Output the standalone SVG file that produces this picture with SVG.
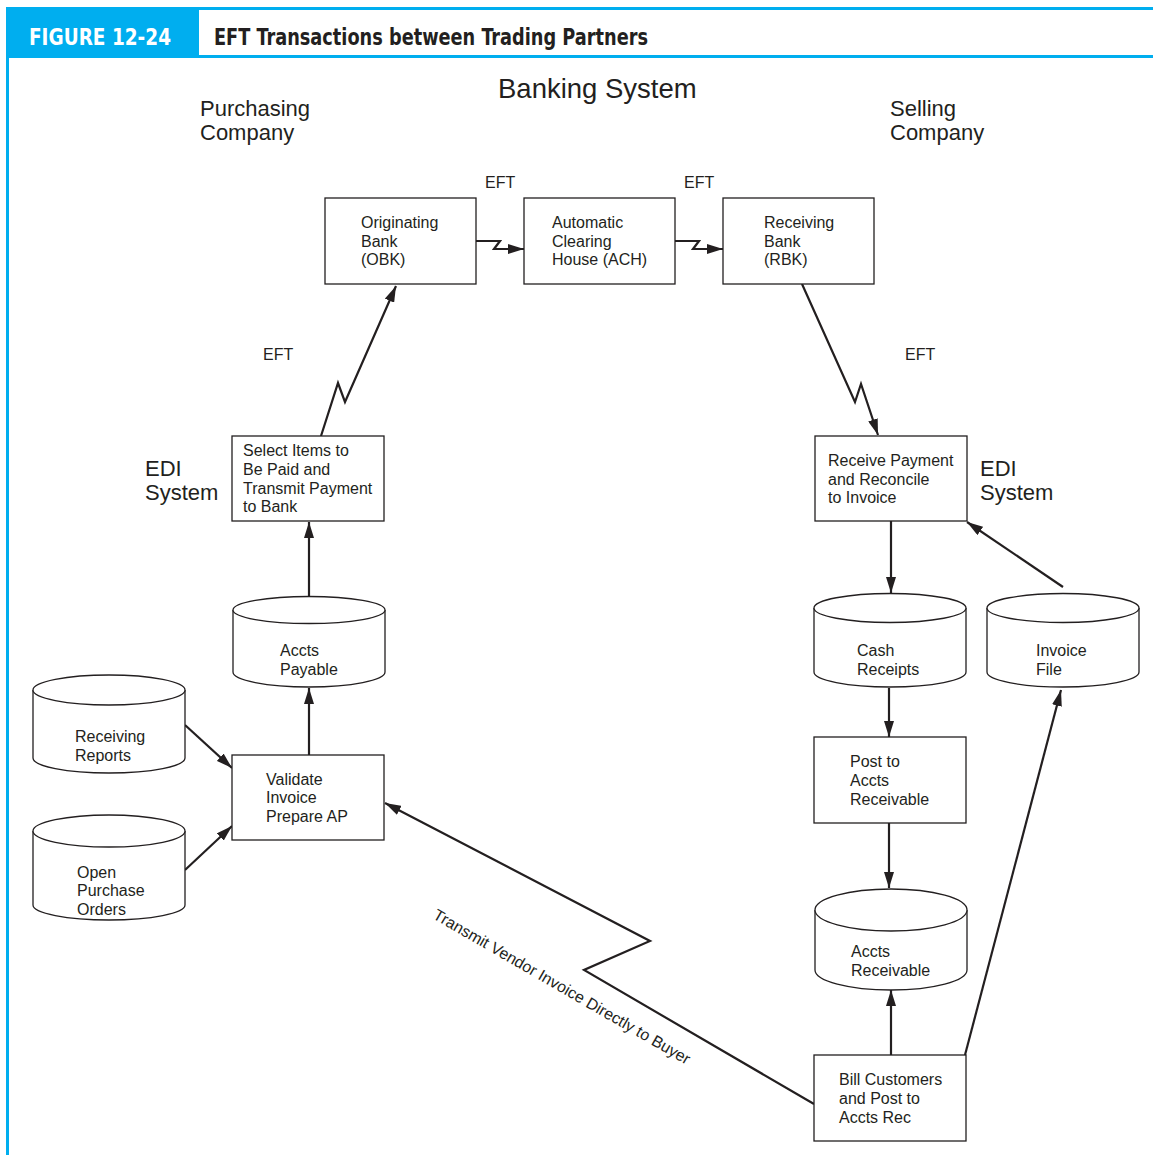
<svg xmlns="http://www.w3.org/2000/svg" width="1153" height="1155" viewBox="0 0 1153 1155">
  <style>
    .box { fill: #fff; stroke: #231f20; stroke-width: 1.3; }
    .cyl { fill: #fff; stroke: #231f20; stroke-width: 1.3; }
    .lbl { font-family: "Liberation Sans", Arial, sans-serif; font-size: 16px; fill: #231f20; }
    .big { font-family: "Liberation Sans", Arial, sans-serif; font-size: 22px; fill: #231f20; }
    .conn { fill: none; stroke: #231f20; stroke-width: 2.2; stroke-linejoin: miter; }
    .hdr { font-family: "DejaVu Sans Condensed", "DejaVu Sans", sans-serif; font-stretch: condensed; font-weight: bold; font-size: 23px; }
  </style>
  <defs>
    <marker id="arr" markerUnits="userSpaceOnUse" markerWidth="16" markerHeight="10" refX="16" refY="5" orient="auto">
      <path d="M0,0 L16,5 L0,10 Z" fill="#231f20"/>
    </marker>
  </defs>

  <rect width="1153" height="1155" fill="#fff"/>

  <!-- header band -->
  <g id="header">
    <rect x="6" y="7" width="1147" height="3" fill="#00aeef"/>
    <rect x="6" y="7" width="193" height="51" fill="#00aeef"/>
    <rect x="199" y="55" width="954" height="3" fill="#00aeef"/>
    <rect x="6" y="57" width="3" height="1098" fill="#00aeef"/>
    <text class="hdr" x="29" y="45" fill="#fff" textLength="142" lengthAdjust="spacingAndGlyphs">FIGURE 12-24</text>
    <text class="hdr" x="214" y="45" fill="#231f20" textLength="434" lengthAdjust="spacingAndGlyphs">EFT Transactions between Trading Partners</text>
  </g>

  <!-- section titles -->
  <g id="titles">
    <text class="big" x="200" y="116">Purchasing</text>
    <text class="big" x="200" y="140">Company</text>
    <text class="big" x="498" y="98" style="font-size:27.5px">Banking System</text>
    <text class="big" x="890" y="116">Selling</text>
    <text class="big" x="890" y="140">Company</text>
    <text class="big" x="145" y="476">EDI</text>
    <text class="big" x="145" y="500">System</text>
    <text class="big" x="980" y="476">EDI</text>
    <text class="big" x="980" y="500">System</text>
    <text class="lbl" x="485" y="188">EFT</text>
    <text class="lbl" x="684" y="188">EFT</text>
    <text class="lbl" x="263" y="360">EFT</text>
    <text class="lbl" x="905" y="360">EFT</text>
  </g>

  <!-- connectors -->
  <g id="connectors">
    <path class="conn" d="M476,241 L500,241 L494,249 L524,249" marker-end="url(#arr)"/>
    <path class="conn" d="M675,241 L699,241 L693,249 L723,249" marker-end="url(#arr)"/>
    <path class="conn" d="M321,436 L338,383 L345,402 L396,286" marker-end="url(#arr)"/>
    <path class="conn" d="M802,284 L855,402 L861,384 L878,435" marker-end="url(#arr)"/>
    <path class="conn" d="M309,597 L309,522" marker-end="url(#arr)"/>
    <path class="conn" d="M309,755 L309,688" marker-end="url(#arr)"/>
    <path class="conn" d="M185,725 L232,768" marker-end="url(#arr)"/>
    <path class="conn" d="M185,870 L232,826" marker-end="url(#arr)"/>
    <path class="conn" d="M891,521 L891,593" marker-end="url(#arr)"/>
    <path class="conn" d="M1063,587 L967,522" marker-end="url(#arr)"/>
    <path class="conn" d="M889,688 L889,737" marker-end="url(#arr)"/>
    <path class="conn" d="M889,823 L889,888" marker-end="url(#arr)"/>
    <path class="conn" d="M891,1055 L891,990" marker-end="url(#arr)"/>
    <path class="conn" d="M965,1055 L1061,690" marker-end="url(#arr)"/>
    <path class="conn" d="M814,1104 L584,970 L650,941 L385,803" marker-end="url(#arr)"/>
    <text class="lbl" transform="translate(432,918) rotate(30)">Transmit Vendor Invoice Directly to Buyer</text>
  </g>

  <!-- banking system -->
  <g id="obk">
    <rect class="box" x="325" y="198" width="151" height="86"/>
    <text class="lbl" x="361" y="228">Originating</text>
    <text class="lbl" x="361" y="247">Bank</text>
    <text class="lbl" x="361" y="265">(OBK)</text>
  </g>
  <g id="ach">
    <rect class="box" x="524" y="198" width="151" height="86"/>
    <text class="lbl" x="552" y="228">Automatic</text>
    <text class="lbl" x="552" y="247">Clearing</text>
    <text class="lbl" x="552" y="265">House (ACH)</text>
  </g>
  <g id="rbk">
    <rect class="box" x="723" y="198" width="151" height="86"/>
    <text class="lbl" x="764" y="228">Receiving</text>
    <text class="lbl" x="764" y="247">Bank</text>
    <text class="lbl" x="764" y="265">(RBK)</text>
  </g>

  <!-- purchasing company -->
  <g id="select-items">
    <rect class="box" x="232" y="436" width="152" height="85"/>
    <text class="lbl" x="243" y="456">Select Items to</text>
    <text class="lbl" x="243" y="475">Be Paid and</text>
    <text class="lbl" x="243" y="494">Transmit Payment</text>
    <text class="lbl" x="243" y="512">to Bank</text>
  </g>
  <g id="accts-payable">
    <path class="cyl" d="M233,610 A76,13.5 0 0 1 385,610 L385,672 A76,15 0 0 1 233,672 Z"/>
    <path class="cyl" fill="none" d="M233,610 A76,13.5 0 0 0 385,610"/>
    <text class="lbl" x="280" y="656">Accts</text>
    <text class="lbl" x="280" y="675">Payable</text>
  </g>
  <g id="receiving-reports">
    <path class="cyl" d="M33,690 A76,15 0 0 1 185,690 L185,758 A76,15 0 0 1 33,758 Z"/>
    <path class="cyl" fill="none" d="M33,690 A76,15 0 0 0 185,690"/>
    <text class="lbl" x="75" y="742">Receiving</text>
    <text class="lbl" x="75" y="761">Reports</text>
  </g>
  <g id="open-po">
    <path class="cyl" d="M33,831 A76,16 0 0 1 185,831 L185,905 A76,15 0 0 1 33,905 Z"/>
    <path class="cyl" fill="none" d="M33,831 A76,16 0 0 0 185,831"/>
    <text class="lbl" x="77" y="878">Open</text>
    <text class="lbl" x="77" y="896">Purchase</text>
    <text class="lbl" x="77" y="915">Orders</text>
  </g>
  <g id="validate-invoice">
    <rect class="box" x="232" y="755" width="152" height="85"/>
    <text class="lbl" x="266" y="785">Validate</text>
    <text class="lbl" x="266" y="803">Invoice</text>
    <text class="lbl" x="266" y="822">Prepare AP</text>
  </g>

  <!-- selling company -->
  <g id="receive-payment">
    <rect class="box" x="815" y="436" width="152" height="85"/>
    <text class="lbl" x="828" y="466">Receive Payment</text>
    <text class="lbl" x="828" y="485">and Reconcile</text>
    <text class="lbl" x="828" y="503">to Invoice</text>
  </g>
  <g id="cash-receipts">
    <path class="cyl" d="M814,608 A76,14.5 0 0 1 966,608 L966,672 A76,15 0 0 1 814,672 Z"/>
    <path class="cyl" fill="none" d="M814,608 A76,14.5 0 0 0 966,608"/>
    <text class="lbl" x="857" y="656">Cash</text>
    <text class="lbl" x="857" y="675">Receipts</text>
  </g>
  <g id="invoice-file">
    <path class="cyl" d="M987,608 A76,14.5 0 0 1 1139,608 L1139,672 A76,15 0 0 1 987,672 Z"/>
    <path class="cyl" fill="none" d="M987,608 A76,14.5 0 0 0 1139,608"/>
    <text class="lbl" x="1036" y="656">Invoice</text>
    <text class="lbl" x="1036" y="675">File</text>
  </g>
  <g id="post-ar">
    <rect class="box" x="814" y="737" width="152" height="86"/>
    <text class="lbl" x="850" y="767">Post to</text>
    <text class="lbl" x="850" y="786">Accts</text>
    <text class="lbl" x="850" y="805">Receivable</text>
  </g>
  <g id="accts-receivable">
    <path class="cyl" d="M815,910 A76,21 0 0 1 967,910 L967,970 A76,20 0 0 1 815,970 Z"/>
    <path class="cyl" fill="none" d="M815,910 A76,21 0 0 0 967,910"/>
    <text class="lbl" x="851" y="957">Accts</text>
    <text class="lbl" x="851" y="976">Receivable</text>
  </g>
  <g id="bill-customers">
    <rect class="box" x="814" y="1055" width="152" height="86"/>
    <text class="lbl" x="839" y="1085">Bill Customers</text>
    <text class="lbl" x="839" y="1104">and Post to</text>
    <text class="lbl" x="839" y="1123">Accts Rec</text>
  </g>
</svg>
